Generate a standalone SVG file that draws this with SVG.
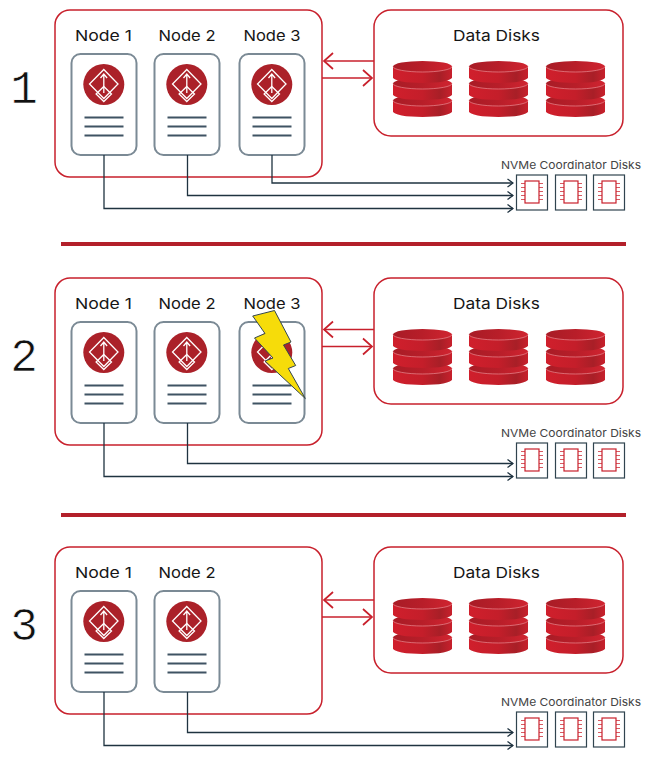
<svg xmlns="http://www.w3.org/2000/svg" width="652" height="780" viewBox="0 0 652 780">
<style>
text{font-family:"Inter","Liberation Sans",sans-serif;fill:#161616}
.lbl{font-size:15px;text-anchor:middle}
.num{font-family:"Liberation Mono",monospace;font-size:46px;text-anchor:middle;fill:#111;stroke:#fff;stroke-width:.7}
.nv{font-size:11px;fill:#444}
.frame{fill:#fff;stroke:#c8202c;stroke-width:1.5}
.card{fill:#fff;stroke:#7b8a95;stroke-width:2}
.ln{stroke:#3f5363;stroke-width:2;fill:none}
.wh{fill:none;stroke:#fff;stroke-width:1.3}
.conn{fill:none;stroke:#1f3340;stroke-width:1.3}
.red{fill:none;stroke:#c8202c;stroke-width:1.7}
.sep{fill:#b3202a}
.box{fill:#fff;stroke:#30444f;stroke-width:1.2}
.chip{fill:none;stroke:#c8202c;stroke-width:1.2}
.pin{stroke:#d85a62;stroke-width:1}
</style>
<defs>
<linearGradient id="dg" x1="0" x2="1" y1="0" y2="0">
<stop offset="0" stop-color="#d01f2c"/><stop offset=".5" stop-color="#c41e2a"/><stop offset=".8" stop-color="#a81f27"/><stop offset="1" stop-color="#c8202c"/>
</linearGradient>
<linearGradient id="dt" x1="0" x2="1" y1="0" y2="0">
<stop offset="0" stop-color="#a81c26"/><stop offset=".5" stop-color="#b81e29"/><stop offset="1" stop-color="#d02430"/>
</linearGradient>
<marker id="hd" markerWidth="8" markerHeight="10" refX="7" refY="5" orient="auto" markerUnits="userSpaceOnUse"><path d="M1.500 1 L7 5 L1.500 9" fill="none" stroke="#1f3340" stroke-width="1.3"/></marker>
<marker id="hr" markerWidth="13" markerHeight="20" refX="11" refY="10" orient="auto" markerUnits="userSpaceOnUse"><path d="M2 2 L11 10 L2 18" fill="none" stroke="#c8202c" stroke-width="1.7"/></marker>
<g id="cardicon">
<rect class="card" x="0" y="0" width="65" height="101" rx="9"/>
<circle cx="32.300" cy="30.500" r="20.500" fill="#ab2129"/>
<path class="wh" d="M32.300 15.500 L46.500 30 L32.300 44.500 L18 30Z"/>
<path class="wh" d="M32.300 32.500 L40 40 L32.300 47.500 L24.600 40Z"/>
<path class="wh" d="M32.300 39 V20 M29 24 L32.300 20 L35.600 24"/>
<path class="ln" d="M13 63.500H52M13 72.500H52M13 81.500H52"/>
</g>
<g id="stack">
<path d="M-29.500 34 v11 a29.500 5.500 0 0 0 59 0 v-11z" fill="url(#dg)"/>
<ellipse cx="0" cy="34" rx="29.500" ry="5.500" fill="url(#dt)"/>
<path d="M-29.500 34 a29.500 5.500 0 0 0 59 0" fill="none" stroke="#e88a90" stroke-width=".7"/>
<path d="M-29.500 17 v11 a29.500 5.500 0 0 0 59 0 v-11z" fill="url(#dg)"/>
<ellipse cx="0" cy="17" rx="29.500" ry="5.500" fill="url(#dt)"/>
<path d="M-29.500 17 a29.500 5.500 0 0 0 59 0" fill="none" stroke="#e88a90" stroke-width=".7"/>
<path d="M-29.500 0 v11 a29.500 5.500 0 0 0 59 0 v-11z" fill="url(#dg)"/>
<ellipse cx="0" cy="0" rx="29.500" ry="5.500" fill="url(#dt)"/>
<path d="M-29.500 0 a29.500 5.500 0 0 0 59 0" fill="none" stroke="#e88a90" stroke-width=".7"/>
</g>
<g id="chipbox">
<rect class="box" x="0" y="0" width="31" height="35"/>
<path class="pin" d="M4.500 8.500h4M4.500 12.500h4M4.500 16.500h4M4.500 20.500h4M4.500 24.500h4M22.500 8.500h4M22.500 12.500h4M22.500 16.500h4M22.500 20.500h4M22.500 24.500h4"/>
<rect class="chip" x="8.500" y="6" width="14" height="22"/>
</g>
<g id="datapanel">
<rect class="frame" x="374" y="10" width="249" height="126" rx="17"/>
<text class="lbl" x="496.500" y="41" textLength="87" lengthAdjust="spacingAndGlyphs">Data Disks</text>
<use href="#stack" x="422.500" y="66.500"/>
<use href="#stack" x="498.500" y="66.500"/>
<use href="#stack" x="575.500" y="66.500"/>
</g>
<g id="nvme">
<text class="nv" x="501" y="169" textLength="140" lengthAdjust="spacingAndGlyphs">NVMe Coordinator Disks</text>
<use href="#chipbox" x="516.500" y="175"/>
<use href="#chipbox" x="555.500" y="175"/>
<use href="#chipbox" x="593.500" y="175"/>
</g>
</defs>

<g id="section-1">
<text class="num" x="24" y="102.500">1</text>
<g id="s1-cluster"><rect class="frame" x="55" y="10" width="267" height="167" rx="15"/></g>
<g id="s1-node1"><text class="lbl" x="103.500" y="41" textLength="57" lengthAdjust="spacingAndGlyphs">Node 1</text><use href="#cardicon" x="71.500" y="54"/></g>
<g id="s1-node2"><text class="lbl" x="187" y="41" textLength="57" lengthAdjust="spacingAndGlyphs">Node 2</text><use href="#cardicon" x="154.500" y="54"/></g>
<g id="s1-node3"><text class="lbl" x="272" y="41" textLength="57" lengthAdjust="spacingAndGlyphs">Node 3</text><use href="#cardicon" x="239.500" y="54"/></g>
<g id="s1-data"><use href="#datapanel"/></g>
<g id="s1-nvme"><use href="#nvme"/></g>
</g>

<g id="section-2">
<text class="num" x="24" y="370.500">2</text>
<g id="s2-cluster"><rect class="frame" x="55" y="278" width="267" height="167" rx="15"/></g>
<g id="s2-node1"><text class="lbl" x="103.500" y="309" textLength="57" lengthAdjust="spacingAndGlyphs">Node 1</text><use href="#cardicon" x="71.500" y="322"/></g>
<g id="s2-node2"><text class="lbl" x="187" y="309" textLength="57" lengthAdjust="spacingAndGlyphs">Node 2</text><use href="#cardicon" x="154.500" y="322"/></g>
<g id="s2-node3"><text class="lbl" x="272" y="309" textLength="57" lengthAdjust="spacingAndGlyphs">Node 3</text><use href="#cardicon" x="239.500" y="322"/>
<polygon id="bolt" points="252.700,316 274.500,310.500 291,342 283.500,345 295.700,365.500 288.300,368.500 305.300,398.500 265,361 273,358 254.500,338 265,333.500" fill="#f6dc0a" stroke="#33464f" stroke-width="1"/></g>
<g id="s2-data"><use href="#datapanel" y="268"/></g>
<g id="s2-nvme"><use href="#nvme" y="268"/></g>
</g>

<g id="section-3">
<text class="num" x="24" y="639.500">3</text>
<g id="s3-cluster"><rect class="frame" x="55" y="547" width="267" height="167" rx="15"/></g>
<g id="s3-node1"><text class="lbl" x="103.500" y="578" textLength="57" lengthAdjust="spacingAndGlyphs">Node 1</text><use href="#cardicon" x="71.500" y="591"/></g>
<g id="s3-node2"><text class="lbl" x="187" y="578" textLength="57" lengthAdjust="spacingAndGlyphs">Node 2</text><use href="#cardicon" x="154.500" y="591"/></g>
<g id="s3-data"><use href="#datapanel" y="537"/></g>
<g id="s3-nvme"><use href="#nvme" y="537"/></g>
</g>

<g id="separators">
<rect class="sep" x="61" y="242" width="565" height="4"/>
<rect class="sep" x="61" y="513" width="565" height="4"/>
</g>

<g id="connectors">
<path class="conn" marker-end="url(#hd)" d="M272 155V183H513"/>
<path class="conn" marker-end="url(#hd)" d="M187.500 155V195.500H513"/>
<path class="conn" marker-end="url(#hd)" d="M104 155V208.500H513"/>
<path class="conn" marker-end="url(#hd)" d="M187.500 423V463.500H513"/>
<path class="conn" marker-end="url(#hd)" d="M104 423V476.500H513"/>
<path class="conn" marker-end="url(#hd)" d="M187.500 692V732.500H513"/>
<path class="conn" marker-end="url(#hd)" d="M104 692V745.500H513"/>
<path class="red" marker-end="url(#hr)" d="M374 61H324"/>
<path class="red" marker-end="url(#hr)" d="M322 78H372"/>
<path class="red" marker-end="url(#hr)" d="M374 329.500H324"/>
<path class="red" marker-end="url(#hr)" d="M322 346.500H372"/>
<path class="red" marker-end="url(#hr)" d="M374 600H324"/>
<path class="red" marker-end="url(#hr)" d="M322 617H372"/>
</g>
</svg>
